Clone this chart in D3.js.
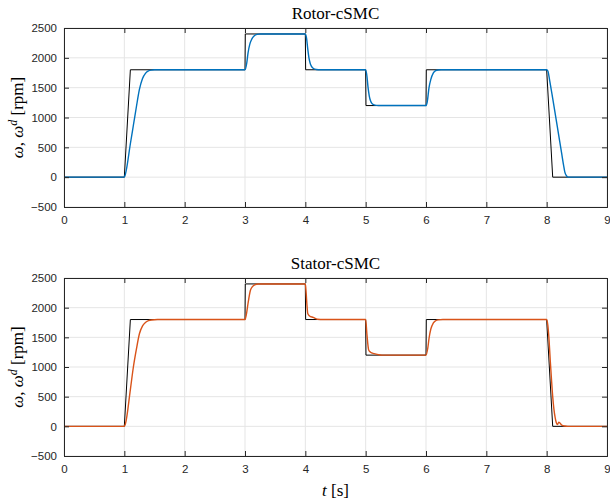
<!DOCTYPE html>
<html>
<head>
<meta charset="utf-8">
<script src="https://cdn.jsdelivr.net/npm/d3@7"></script>
<style>
  body { margin: 0; background: #fff; }
  .tick text { font-family: "Liberation Sans", Arial, sans-serif; font-size: 11.5px; fill: #262626; }
  .serif { font-family: "Liberation Serif", "DejaVu Serif", serif; fill: #000; }
</style>
</head>
<body>
<div id="chart"></div>
<script>
// reference speed (black) - same for both panels
const refSpeed = [
  [0, 0], [1, 0], [1.1, 1800], [3, 1800], [3.005, 2400], [4, 2400], [4.005, 1800],
  [5, 1800], [5.005, 1200], [6, 1200], [6.005, 1800], [8, 1800], [8.1, 0], [9, 0]
];

// rotor-cSMC measured speed (blue)
const rotorSpeed = [
  [0, 0], [1.0, 0], [1.02, 60], [1.1, 560], [1.15, 870], [1.2, 1180], [1.25, 1470],
  [1.3, 1650], [1.35, 1740], [1.4, 1780], [1.45, 1795], [1.5, 1800],
  [3.0, 1800], [3.03, 1920], [3.05, 2080], [3.08, 2230], [3.11, 2310], [3.15, 2365],
  [3.2, 2393], [3.25, 2400],
  [4.0, 2400], [4.02, 2330], [4.04, 2150], [4.06, 2000], [4.08, 1910], [4.1, 1860],
  [4.13, 1825], [4.18, 1805], [4.25, 1800],
  [5.0, 1800], [5.02, 1700], [5.04, 1500], [5.06, 1360], [5.08, 1280], [5.1, 1240],
  [5.13, 1215], [5.18, 1203], [5.25, 1200],
  [6.0, 1200], [6.02, 1260], [6.05, 1500], [6.08, 1640], [6.12, 1745], [6.16, 1785],
  [6.2, 1797], [6.25, 1800],
  [8.0, 1800], [8.02, 1780], [8.05, 1620], [8.1, 1320], [8.15, 1010], [8.2, 700],
  [8.25, 390], [8.28, 200], [8.3, 90], [8.33, 20], [8.36, 0], [9, 0]
];

// stator-cSMC measured speed (orange)
const statorSpeed = [
  [0, 0], [1.0, 0], [1.02, 50], [1.1, 620], [1.15, 1000], [1.2, 1300], [1.25, 1560],
  [1.3, 1690], [1.35, 1750], [1.4, 1780], [1.45, 1793], [1.55, 1800],
  [3.0, 1800], [3.03, 1930], [3.05, 2070], [3.09, 2294], [3.12, 2350], [3.16, 2385],
  [3.22, 2400],
  [4.0, 2400], [4.01, 2300], [4.03, 2000], [4.04, 1903], [4.07, 1860], [4.13, 1836],
  [4.2, 1805], [4.3, 1800],
  [5.0, 1800], [5.02, 1560], [5.05, 1287], [5.08, 1250], [5.14, 1225], [5.24, 1203],
  [5.3, 1200],
  [6.0, 1200], [6.03, 1320], [6.05, 1480], [6.08, 1640], [6.12, 1740], [6.16, 1780],
  [6.2, 1795], [6.28, 1800],
  [8.0, 1800], [8.02, 1700], [8.04, 1450], [8.06, 1100], [8.08, 790], [8.1, 500],
  [8.12, 290], [8.14, 150], [8.16, 60], [8.18, 30], [8.2, 70], [8.22, 55],
  [8.25, 20], [8.3, 5], [8.35, 0], [9, 0]
];

const xTicks = [0, 1, 2, 3, 4, 5, 6, 7, 8, 9];
const yTicks = [-500, 0, 500, 1000, 1500, 2000, 2500];
const panelTitles = ["Rotor-cSMC", "Stator-cSMC"];
const seriesColors = ["#0072BD", "#D95319"];

const W = 610, H = 502;
const svg = d3.select("#chart").append("svg").attr("width", W).attr("height", H);

const x = d3.scaleLinear().domain([0, 9]).range([64, 607]);

function drawPanel(idx, top, bottom, data) {
  const y = d3.scaleLinear().domain([-500, 2500]).range([bottom, top]);
  const g = svg.append("g");
  const axisColor = "#262626";

  // grid
  g.append("g").selectAll("line.gx").data(xTicks).join("line")
    .attr("x1", d => x(d)).attr("x2", d => x(d))
    .attr("y1", top).attr("y2", bottom)
    .attr("stroke", "#e5e5e5").attr("stroke-width", 1);
  g.append("g").selectAll("line.gy").data(yTicks).join("line")
    .attr("y1", d => y(d)).attr("y2", d => y(d))
    .attr("x1", x(0)).attr("x2", x(9))
    .attr("stroke", "#e5e5e5").attr("stroke-width", 1);

  // clip
  const clipId = "clip" + idx;
  svg.append("clipPath").attr("id", clipId).append("rect")
    .attr("x", x(0)).attr("y", top).attr("width", x(9) - x(0)).attr("height", bottom - top);

  const line = d3.line().x(d => x(d[0])).y(d => y(d[1]));
  const smooth = d3.line().x(d => x(d[0])).y(d => y(d[1])).curve(d3.curveMonotoneX);

  const lines = g.append("g").attr("clip-path", `url(#${clipId})`);
  lines.append("path").datum(refSpeed)
    .attr("d", line).attr("fill", "none").attr("stroke", "#000").attr("stroke-width", 1);
  lines.append("path").datum(data)
    .attr("d", smooth).attr("fill", "none").attr("stroke", seriesColors[idx]).attr("stroke-width", 1.4);

  // axes with inward ticks
  const axB = g.append("g").attr("transform", `translate(0,${bottom})`)
    .call(d3.axisBottom(x).tickValues(xTicks).tickSize(-5).tickPadding(9).tickFormat(d3.format("d")));
  const axT = g.append("g").attr("transform", `translate(0,${top})`)
    .call(d3.axisTop(x).tickValues(xTicks).tickSize(-5).tickFormat(""));
  const axL = g.append("g").attr("transform", `translate(${x(0)},0)`)
    .call(d3.axisLeft(y).tickValues(yTicks).tickSize(-5).tickPadding(7).tickFormat(d3.format("d")));
  const axR = g.append("g").attr("transform", `translate(${x(9)},0)`)
    .call(d3.axisRight(y).tickValues(yTicks).tickSize(-5).tickFormat(""));
  [axB, axT, axL, axR].forEach(a => {
    a.select(".domain").attr("stroke", axisColor).attr("stroke-width", 1);
    a.selectAll(".tick line").attr("stroke", axisColor);
  });

  // title
  g.append("text").attr("class", "serif")
    .attr("x", (x(0) + x(9)) / 2).attr("y", top - 9)
    .attr("text-anchor", "middle").attr("font-size", 17)
    .text(panelTitles[idx]);

  // y label
  const yl = g.append("text").attr("class", "serif")
    .attr("transform", `translate(23,${(top + bottom) / 2}) rotate(-90)`)
    .attr("text-anchor", "middle").attr("font-size", 17);
  yl.append("tspan").attr("font-style", "italic").text("ω");
  yl.append("tspan").text(", ");
  yl.append("tspan").attr("font-style", "italic").text("ω");
  yl.append("tspan").attr("font-style", "italic").attr("font-size", 12).attr("dy", -6).text("d");
  yl.append("tspan").attr("dy", 6).text(" [rpm]");
}

drawPanel(0, 28, 207, rotorSpeed);
drawPanel(1, 278, 456, statorSpeed);

// x label
const xl = svg.append("text").attr("class", "serif")
  .attr("x", (x(0) + x(9)) / 2).attr("y", 496)
  .attr("text-anchor", "middle").attr("font-size", 17);
xl.append("tspan").attr("font-style", "italic").text("t");
xl.append("tspan").text(" [s]");
</script>
</body>
</html>
